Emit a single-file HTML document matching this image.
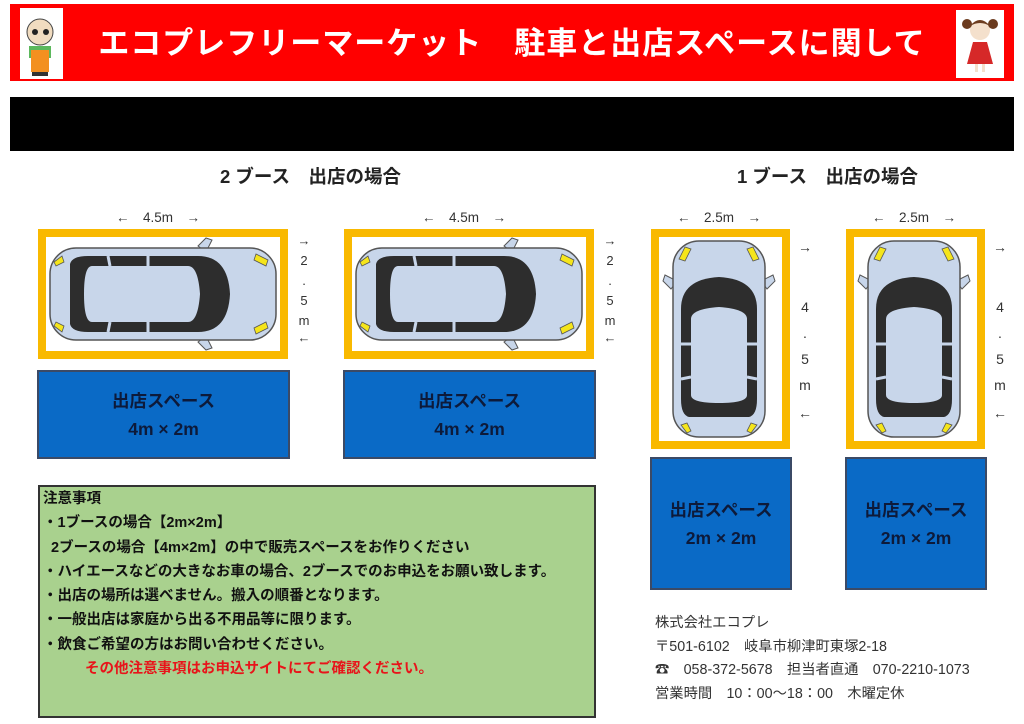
<!DOCTYPE html>
<html><head><meta charset="utf-8"><style>
body{margin:0;width:1024px;height:724px;background:#fff;position:relative;overflow:hidden;font-family:"Liberation Sans","Noto Sans CJK JP",sans-serif;}
.a{position:absolute;}
.hdr{left:10px;top:4px;width:1004px;height:77px;background:#f00;}
.title{left:0;top:18px;width:1024px;text-align:center;color:#fff;font-size:31px;font-weight:bold;letter-spacing:1px;white-space:pre;}
.logo{background:#fff;}
.bar{left:10px;top:97px;width:1004px;height:54px;background:#000;}
.h{font-size:18.5px;font-weight:bold;color:#222;white-space:pre;}
.dim{font-size:13.5px;color:#333;white-space:pre;}
.vt{font-size:13px;color:#333;text-align:center;width:14px;line-height:1;}
.park{border:8px solid #f9b900;background:#fff;box-sizing:border-box;}
.blue{background:#0a6ac6;border:2px solid #3b4a66;box-sizing:border-box;color:#0d1a3a;font-weight:bold;font-size:17.5px;text-align:center;display:flex;flex-direction:column;justify-content:center;line-height:28px;}
.note{left:38px;top:485px;width:558px;height:233px;background:#a9d18e;border:2px solid #333;box-sizing:border-box;font-size:14.5px;font-weight:bold;color:#111;padding:0 3px;line-height:24.3px;white-space:nowrap;}
.co{left:655px;top:612px;font-size:14.3px;color:#333;line-height:23.5px;white-space:pre;}
</style></head><body>
<div class="a hdr"></div>
<div class="a logo" style="left:20px;top:8px;width:43px;height:71px;">
<svg width="43" height="71"><circle cx="20" cy="24" r="13" fill="#f1dcc0" stroke="#444"/><circle cx="15" cy="24" r="3" fill="#222"/><circle cx="26" cy="24" r="3" fill="#222"/><rect x="9" y="38" width="22" height="12" fill="#5cb85c"/><rect x="11" y="42" width="18" height="22" fill="#f39020"/><rect x="12" y="64" width="16" height="4" fill="#333"/></svg></div>
<div class="a logo" style="left:956px;top:10px;width:48px;height:68px;">
<svg width="48" height="68"><circle cx="24" cy="20" r="10" fill="#f4e0cc"/><path d="M14 16 q10 -12 20 0 q-10 -6 -20 0z" fill="#6b3b1e"/><circle cx="11" cy="14" r="5" fill="#6b3b1e"/><circle cx="37" cy="14" r="5" fill="#6b3b1e"/><path d="M17 32 L31 32 L37 54 L11 54z" fill="#d62828"/><rect x="19" y="54" width="3" height="8" fill="#f4e0cc"/><rect x="26" y="54" width="3" height="8" fill="#f4e0cc"/></svg></div>
<div class="a title">エコプレフリーマーケット　駐車と出店スペースに関して</div>
<div class="a bar"></div>

<div class="a h" style="left:220px;top:163px;">2 ブース　出店の場合</div>
<div class="a h" style="left:737px;top:163px;">1 ブース　出店の場合</div>
<div class="a dim" style="left:116px;top:206px;">←　4.5m　→</div>
<div class="a dim" style="left:422px;top:206px;">←　4.5m　→</div>
<div class="a dim" style="left:677px;top:206px;">←　2.5m　→</div>
<div class="a dim" style="left:872px;top:206px;">←　2.5m　→</div>

<div class="a park" style="left:38px;top:229px;width:250px;height:130px;">
<svg width="234" height="114" viewBox="0 0 234 114"><g transform="translate(2,5)">
<path d="M150 4 l8 -8 l6 2 l-6 12z M150 100 l8 8 l6 -2 l-6 -12z" fill="#c8d6ea" stroke="#555"/>
<rect x="2" y="6" width="226" height="92" rx="26" fill="#c8d6ea" stroke="#555" stroke-width="1.5"/>
<path d="M22 22 Q24 14 40 14 L150 14 Q180 14 182 52 Q180 90 150 90 L40 90 Q24 90 22 82z" fill="#2d2d2d"/>
<path d="M44 24 L140 24 Q150 24 152 52 Q150 80 140 80 L44 80 Q36 80 36 52 Q36 24 44 24z" fill="#c8d6ea"/>
<path d="M60 14 L62 24 M100 14 L100 24 M60 90 L62 80 M100 90 L100 80" stroke="#c8d6ea" stroke-width="3"/>
<path d="M208 12 l12 6 l-2 6 l-12 -6z M208 92 l12 -6 l-2 -6 l-12 6z" fill="#f5e51b" stroke="#555" stroke-width=".8"/>
<path d="M6 20 l8 -6 l2 6 l-8 4z M6 84 l8 6 l2 -6 l-8 -4z" fill="#f5e51b" stroke="#555" stroke-width=".8"/>
</g></svg></div>
<div class="a park" style="left:344px;top:229px;width:250px;height:130px;">
<svg width="234" height="114" viewBox="0 0 234 114"><g transform="translate(2,5)">
<path d="M150 4 l8 -8 l6 2 l-6 12z M150 100 l8 8 l6 -2 l-6 -12z" fill="#c8d6ea" stroke="#555"/>
<rect x="2" y="6" width="226" height="92" rx="26" fill="#c8d6ea" stroke="#555" stroke-width="1.5"/>
<path d="M22 22 Q24 14 40 14 L150 14 Q180 14 182 52 Q180 90 150 90 L40 90 Q24 90 22 82z" fill="#2d2d2d"/>
<path d="M44 24 L140 24 Q150 24 152 52 Q150 80 140 80 L44 80 Q36 80 36 52 Q36 24 44 24z" fill="#c8d6ea"/>
<path d="M60 14 L62 24 M100 14 L100 24 M60 90 L62 80 M100 90 L100 80" stroke="#c8d6ea" stroke-width="3"/>
<path d="M208 12 l12 6 l-2 6 l-12 -6z M208 92 l12 -6 l-2 -6 l-12 6z" fill="#f5e51b" stroke="#555" stroke-width=".8"/>
<path d="M6 20 l8 -6 l2 6 l-8 4z M6 84 l8 6 l2 -6 l-8 -4z" fill="#f5e51b" stroke="#555" stroke-width=".8"/>
</g></svg></div>

<div class="a park" style="left:651px;top:229px;width:139px;height:220px;">
<svg width="123" height="204" viewBox="0 0 123 204"><g transform="translate(8,202) rotate(-90)">
<path d="M150 4 l8 -8 l6 2 l-6 12z M150 100 l8 8 l6 -2 l-6 -12z" fill="#c8d6ea" stroke="#555"/>
<rect x="2" y="6" width="196" height="92" rx="26" fill="#c8d6ea" stroke="#555" stroke-width="1.5"/>
<path d="M22 22 Q24 14 40 14 L130 14 Q160 14 162 52 Q160 90 130 90 L40 90 Q24 90 22 82z" fill="#2d2d2d"/>
<path d="M44 24 L120 24 Q130 24 132 52 Q130 80 120 80 L44 80 Q36 80 36 52 Q36 24 44 24z" fill="#c8d6ea"/>
<path d="M60 14 L62 24 M95 14 L95 24 M60 90 L62 80 M95 90 L95 80" stroke="#c8d6ea" stroke-width="3"/>
<path d="M180 12 l12 6 l-2 6 l-12 -6z M180 92 l12 -6 l-2 -6 l-12 6z" fill="#f5e51b" stroke="#555" stroke-width=".8"/>
<path d="M6 20 l8 -6 l2 6 l-8 4z M6 84 l8 6 l2 -6 l-8 -4z" fill="#f5e51b" stroke="#555" stroke-width=".8"/>
</g></svg></div>
<div class="a park" style="left:846px;top:229px;width:139px;height:220px;">
<svg width="123" height="204" viewBox="0 0 123 204"><g transform="translate(8,202) rotate(-90)">
<path d="M150 4 l8 -8 l6 2 l-6 12z M150 100 l8 8 l6 -2 l-6 -12z" fill="#c8d6ea" stroke="#555"/>
<rect x="2" y="6" width="196" height="92" rx="26" fill="#c8d6ea" stroke="#555" stroke-width="1.5"/>
<path d="M22 22 Q24 14 40 14 L130 14 Q160 14 162 52 Q160 90 130 90 L40 90 Q24 90 22 82z" fill="#2d2d2d"/>
<path d="M44 24 L120 24 Q130 24 132 52 Q130 80 120 80 L44 80 Q36 80 36 52 Q36 24 44 24z" fill="#c8d6ea"/>
<path d="M60 14 L62 24 M95 14 L95 24 M60 90 L62 80 M95 90 L95 80" stroke="#c8d6ea" stroke-width="3"/>
<path d="M180 12 l12 6 l-2 6 l-12 -6z M180 92 l12 -6 l-2 -6 l-12 6z" fill="#f5e51b" stroke="#555" stroke-width=".8"/>
<path d="M6 20 l8 -6 l2 6 l-8 4z M6 84 l8 6 l2 -6 l-8 -4z" fill="#f5e51b" stroke="#555" stroke-width=".8"/>
</g></svg></div>

<div class="a vt" style="left:297px;top:231px;line-height:20px;">→<br>2<br>.<br>5<br>m</div>
<div class="a vt" style="left:297px;top:331px;">←</div>
<div class="a vt" style="left:603px;top:231px;line-height:20px;">→<br>2<br>.<br>5<br>m</div>
<div class="a vt" style="left:603px;top:331px;">←</div>
<div class="a vt" style="left:798px;top:240px;font-size:14px;">→</div>
<div class="a vt" style="left:798px;top:294px;font-size:14px;line-height:26px;">4<br>.<br>5<br>m</div>
<div class="a vt" style="left:798px;top:406px;font-size:14px;">←</div>
<div class="a vt" style="left:993px;top:240px;font-size:14px;">→</div>
<div class="a vt" style="left:993px;top:294px;font-size:14px;line-height:26px;">4<br>.<br>5<br>m</div>
<div class="a vt" style="left:993px;top:406px;font-size:14px;">←</div>

<div class="a blue" style="left:37px;top:370px;width:253px;height:89px;"><div>出店スペース</div><div>4m × 2m</div></div>
<div class="a blue" style="left:343px;top:370px;width:253px;height:89px;"><div>出店スペース</div><div>4m × 2m</div></div>
<div class="a blue" style="left:650px;top:457px;width:142px;height:133px;"><div>出店スペース</div><div>2m × 2m</div></div>
<div class="a blue" style="left:845px;top:457px;width:142px;height:133px;"><div>出店スペース</div><div>2m × 2m</div></div>

<div class="a note">注意事項<br>・1ブースの場合【2m×2m】<br>&nbsp;&nbsp;2ブースの場合【4m×2m】の中で販売スペースをお作りください<br>・ハイエースなどの大きなお車の場合、2ブースでのお申込をお願い致します。<br>・出店の場所は選べません。搬入の順番となります。<br>・一般出店は家庭から出る不用品等に限ります。<br>・飲食ご希望の方はお問い合わせください。<br><span style="color:#e8141a;padding-left:42px;">その他注意事項はお申込サイトにてご確認ください。</span></div>

<div class="a co">株式会社エコプレ
〒501-6102　岐阜市柳津町東塚2-18
☎　058-372-5678　担当者直通　070-2210-1073
営業時間　10：00～18：00　木曜定休</div>
</body></html>
